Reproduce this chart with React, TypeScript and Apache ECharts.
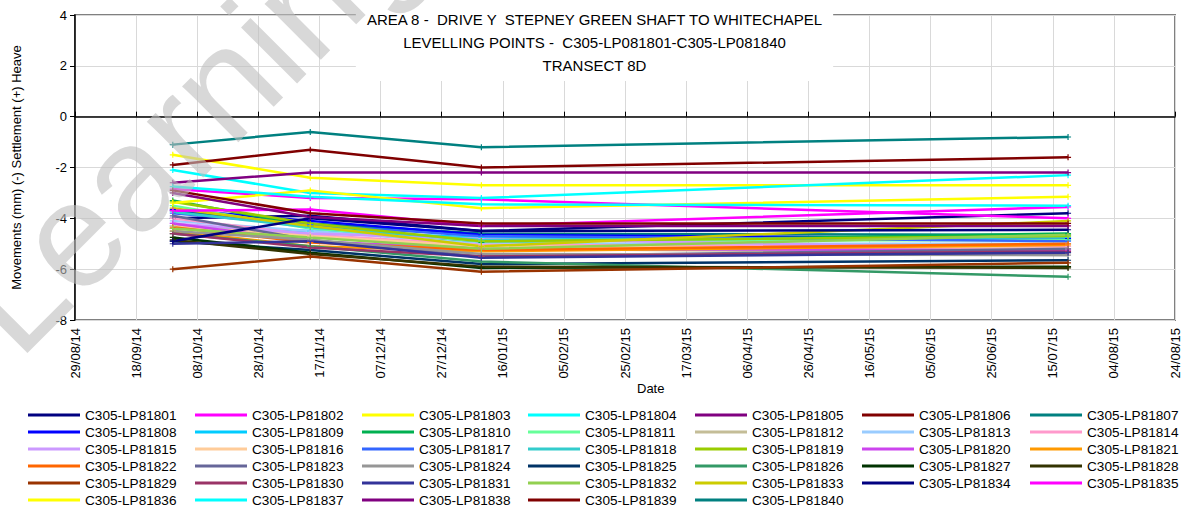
import React, { useEffect, useRef } from "react";
import * as echarts from "echarts";

const surveyDates = ["2014-09-30", "2014-11-14", "2015-01-09", "2015-07-20"];
const axisStart = "2014-08-29";
const axisEndDays = 360;
const tickDays = 20;
const yTicks = { min: -8, max: 4, step: 2 };

const pointNames = Array.from({ length: 40 }, (_, i) => "C305-LP818" + String(i + 1).padStart(2, "0"));

const pointColors = [
  "#000080", "#FF00FF", "#FFFF00", "#00FFFF", "#800080", "#800000", "#008080",
  "#0000FF", "#00CCFF", "#00B050", "#66FF99", "#C4BD97", "#99CCFF", "#FF99CC",
  "#CC99FF", "#FFCC99", "#3366FF", "#33CCCC", "#99CC00", "#CC44EE", "#FF9900",
  "#FF6600", "#666699", "#969696", "#003366", "#339966", "#003300", "#333300",
  "#993300", "#993366", "#333399", "#92D050", "#CCCC00", "#000080", "#FF00FF",
  "#FFFF00", "#00FFFF", "#800080", "#800000", "#008080",
];

// movements (mm) at each survey date, one row per levelling point
const movements = [
  [-4.0, -3.9, -4.5, -3.8],
  [-2.85, -3.2, -3.25, -4.0],
  [-1.5, -2.4, -2.7, -2.7],
  [-2.1, -3.0, -3.2, -2.3],
  [-2.6, -2.2, -2.2, -2.2],
  [-1.9, -1.3, -2.0, -1.6],
  [-3.7, -4.2, -4.6, -4.65],
  [-3.65, -4.1, -4.65, -4.8],
  [-4.3, -4.5, -4.75, -4.85],
  [-3.3, -4.3, -4.95, -4.6],
  [-3.5, -4.4, -4.9, -4.85],
  [-4.4, -4.65, -5.2, -5.35],
  [-4.1, -4.5, -5.0, -5.0],
  [-4.0, -4.65, -5.05, -5.1],
  [-4.2, -4.6, -4.8, -5.2],
  [-4.3, -4.7, -5.1, -5.2],
  [-3.8, -4.25, -4.7, -4.9],
  [-3.75, -4.35, -4.85, -4.75],
  [-3.35, -4.2, -4.9, -4.7],
  [-4.2, -4.9, -5.2, -5.25],
  [-4.5, -5.1, -5.3, -5.05],
  [-4.35, -4.95, -5.25, -5.0],
  [-3.9, -4.85, -5.5, -5.2],
  [-4.5, -4.85, -5.4, -5.45],
  [-4.9, -5.25, -5.8, -5.65],
  [-4.6, -5.1, -5.7, -6.3],
  [-4.75, -5.35, -5.95, -5.9],
  [-4.85, -5.4, -5.9, -5.95],
  [-6.0, -5.5, -6.1, -5.75],
  [-4.6, -5.15, -5.5, -5.3],
  [-5.0, -4.9, -5.55, -5.35],
  [-4.4, -4.75, -5.2, -4.65],
  [-3.6, -4.3, -5.1, -4.1],
  [-4.9, -4.0, -4.5, -4.45],
  [-3.7, -3.65, -4.3, -3.55],
  [-3.4, -2.9, -3.6, -3.15],
  [-2.75, -3.15, -3.45, -3.5],
  [-3.0, -3.95, -4.3, -4.3],
  [-2.9, -3.8, -4.2, -4.2],
  [-1.1, -0.6, -1.2, -0.8],
];

const titleLines = [
  "AREA 8 -  DRIVE Y  STEPNEY GREEN SHAFT TO WHITECHAPEL",
  "LEVELLING POINTS -  C305-LP081801-C305-LP081840",
  "TRANSECT 8D",
];

const DAY = 86400000;
const baseMs = Date.parse(axisStart + "T00:00:00Z");
const toDays = (s: string) => Math.round((Date.parse(s + "T00:00:00Z") - baseMs) / DAY);
const fmt = (d: number) => {
  const dt = new Date(baseMs + d * DAY);
  const p = (n: number) => String(n).padStart(2, "0");
  return p(dt.getUTCDate()) + "/" + p(dt.getUTCMonth() + 1) + "/" + p(dt.getUTCFullYear() % 100);
};

const FONT = "Liberation Sans";
const plus = "path://M4,0H6V4H10V6H6V10H4V6H0V4H4Z";

export default function App() {
  const ref = useRef<HTMLDivElement>(null);
  useEffect(() => {
    if (!ref.current) return;
    const chart = echarts.init(ref.current, undefined, { renderer: "svg" });
    const xs = surveyDates.map(toDays);
    const colLefts = [28, 195, 362, 528, 695, 862, 1030];
    const legends = colLefts.map((left, c) => ({
      type: "plain",
      orient: "vertical",
      left,
      top: 408,
      width: 160,
      height: 130,
      padding: 0,
      itemGap: 3,
      itemWidth: 52,
      itemHeight: 14,
      icon: "path://M0,0H52V3H0Z",
      textStyle: { fontSize: 13.6, fontFamily: FONT, color: "#000", lineHeight: 14, padding: [0, 0, 0, 0] },
      data: pointNames.filter((_, i) => i % 7 === c),
    }));
    chart.setOption({
      animation: false,
      backgroundColor: "#fff",
      textStyle: { fontFamily: FONT },
      title: {
        text: titleLines.join("\n"),
        left: "center",
        top: 4,
        padding: [4, 10, 4, 10],
        backgroundColor: "#fff",
        textStyle: { fontSize: 15, fontWeight: "normal", fontFamily: FONT, color: "#000", lineHeight: 23 },
      },
      legend: legends,
      grid: {
        left: 75, right: 14, top: 15, bottom: 186,
        show: true, borderColor: "#808080", borderWidth: 2, containLabel: false,
      },
      xAxis: {
        type: "value",
        min: 0,
        max: axisEndDays,
        interval: tickDays,
        axisLine: { lineStyle: { color: "#000", width: 1.5 } },
        axisTick: { inside: true, length: 5, lineStyle: { color: "#000" } },
        splitLine: { show: true, lineStyle: { color: "#d9d9d9", width: 1 } },
        axisLabel: { rotate: 90, fontSize: 13, color: "#000", margin: 8, formatter: (v: number) => fmt(v) },
      },
      yAxis: {
        type: "value",
        min: yTicks.min,
        max: yTicks.max,
        interval: yTicks.step,
        name: "Movements (mm) (-) Settlement (+) Heave",
        nameLocation: "middle",
        nameRotate: 90,
        nameGap: 52,
        nameTextStyle: { fontSize: 13, color: "#000" },
        axisLine: { show: true, lineStyle: { color: "#000", width: 1.5 } },
        axisTick: { show: true, length: 5, lineStyle: { color: "#000" } },
        splitLine: { show: true, lineStyle: { color: "#d9d9d9", width: 1 } },
        axisLabel: { fontSize: 13, color: "#000", margin: 8 },
      },
      graphic: [
        {
          type: "text",
          left: 637,
          top: 382,
          style: { text: "Date", fontSize: 13, fontFamily: FONT, fill: "#000" },
        },
        {
          type: "text",
          x: 35,
          y: 378,
          rotation: (45 * Math.PI) / 180,
          z: 100,
          silent: true,
          style: {
            text: "Learning",
            fontSize: 150,
            fontFamily: FONT,
            fill: "rgba(190,190,190,0.6)",
            textVerticalAlign: "bottom",
          },
        },
      ],
      series: pointNames.map((name, i) => ({
        name,
        type: "line",
        data: xs.map((x, j) => [x, movements[i][j]]),
        symbol: plus,
        symbolSize: 6,
        showSymbol: true,
        color: pointColors[i],
        lineStyle: { width: 2.5, color: pointColors[i] },
        itemStyle: { color: pointColors[i] },
      })),
    });
    return () => chart.dispose();
  }, []);
  return <div ref={ref} style={{ width: 1189, height: 506, position: "absolute", left: 0, top: 0 }} />;
}
